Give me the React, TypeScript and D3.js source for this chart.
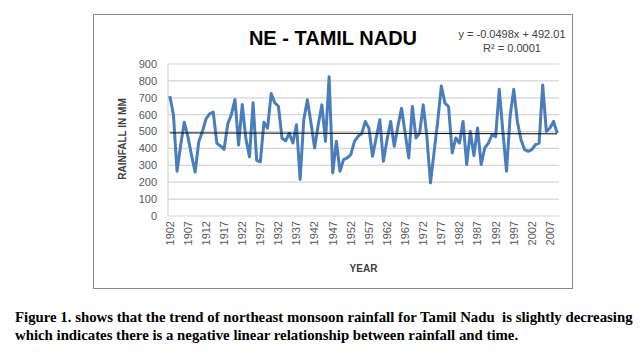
import React from "react";
import * as d3 from "d3";

const startYear = 1902;
const rainfall: number[] = [
  710, 600, 265, 420, 555, 470, 360, 260, 440, 500,
  575, 605, 615, 430, 415, 395, 545, 600, 690, 420,
  660, 460, 350, 670, 330, 320, 555, 520, 725, 670,
  650, 460, 445, 490, 432, 540, 216, 570, 688, 550,
  403, 540, 658, 442, 825, 255, 442, 265, 334, 344,
  363, 442, 472, 487, 560, 520, 354, 462, 570, 324,
  452, 560, 413, 530, 638, 491, 344, 648, 462, 491,
  658, 472, 196, 380, 560, 770, 668, 648, 373, 462,
  432, 560, 305, 500, 358, 521, 305, 403, 432, 481,
  470, 750, 500, 265, 590, 750, 560, 452, 393, 383,
  393, 422, 432, 776, 501, 521, 560, 491,
];
const years: number[] = rainfall.map((_, i) => startYear + i);
const yTicks: number[] = [0, 100, 200, 300, 400, 500, 600, 700, 800, 900];
const trendSlope = -0.0498;
const trendIntercept = 492.01;
const titleText = "NE - TAMIL NADU";
const equationText = "y = -0.0498x + 492.01";
const r2Text = "R² = 0.0001";
const yAxisTitle = "RAINFALL IN MM";
const xAxisTitle = "YEAR";
const caption1 = "Figure 1. shows that the trend of northeast monsoon rainfall for Tamil Nadu  is slightly decreasing";
const caption2 = "which indicates there is a negative linear relationship between rainfall and time.";

export default function App() {
  const W = 641, H = 357;
  const plotL = 168, plotR = 559, plotT = 64, plotB = 216;
  const x = d3.scaleBand<number>().domain(years).range([plotL, plotR]);
  const cx = (yr: number) => (x(yr) as number) + x.bandwidth() / 2;
  const y = d3.scaleLinear().domain([0, 900]).range([plotB, plotT]);
  const line = d3.line<number>().x((_, i) => cx(years[i])).y((d) => y(d));
  const trend = [1, years.length].map((n) => ({ yr: years[n - 1], v: trendSlope * n + trendIntercept }));
  const labelYears = years.filter((_, i) => i % 5 === 0);
  const axisFont = "'Liberation Sans', Arial, sans-serif";
  const serif = "'Liberation Serif', 'Times New Roman', serif";
  return (
    <svg width={W} height={H} style={{ position: "absolute", left: 0, top: 0, background: "#fff" }}>
      <rect x={0} y={0} width={W} height={H} fill="#fff" />
      <rect x={93.5} y={14.5} width={479} height={274} fill="#fff" stroke="#8c8c8c" strokeWidth={1} />
      {yTicks.map((t) => (
        <line key={t} x1={plotL} x2={plotR} y1={y(t)} y2={y(t)} stroke="#d4d4d4" strokeWidth={1.2} />
      ))}
      <line x1={plotL} x2={plotL} y1={plotT} y2={plotB} stroke="#d4d4d4" strokeWidth={1.2} />
      {yTicks.map((t) => (
        <text key={t} x={157} y={y(t)} dy="0.35em" textAnchor="end" fontSize={11} fill="#595959" fontFamily={axisFont}>
          {t}
        </text>
      ))}
      {labelYears.map((yr) => (
        <text key={yr} transform={`translate(${cx(yr)},221) rotate(-90)`} dy="0.35em" textAnchor="end" fontSize={11} fill="#595959" fontFamily={axisFont}>
          {yr}
        </text>
      ))}
      <path d={line(rainfall) || ""} fill="none" stroke="#4a7ebb" strokeWidth={3} strokeLinejoin="round" />
      <line x1={cx(trend[0].yr)} x2={cx(trend[1].yr)} y1={y(trend[0].v)} y2={y(trend[1].v)} stroke="#000" strokeWidth={1} />
      <text x={333} y={45} textAnchor="middle" fontSize={20} fontWeight="bold" fill="#000" fontFamily={axisFont}>
        {titleText}
      </text>
      <text x={512} y={38} textAnchor="middle" fontSize={11} fill="#404040" fontFamily={axisFont}>
        {equationText}
      </text>
      <text x={512} y={52} textAnchor="middle" fontSize={11} fill="#404040" fontFamily={axisFont}>
        {r2Text}
      </text>
      <text transform={`translate(122,139) rotate(-90)`} dy="0.35em" textAnchor="middle" fontSize={10} fontWeight="bold" fill="#404040" fontFamily={axisFont}>
        {yAxisTitle}
      </text>
      <text x={(plotL + plotR) / 2} y={272} textAnchor="middle" fontSize={10} fontWeight="bold" fill="#404040" fontFamily={axisFont}>
        {xAxisTitle}
      </text>
      <text x={15} y={322} fontSize={14.8} fontWeight="bold" fill="#000" fontFamily={serif} style={{ whiteSpace: "pre" }}>
        {caption1}
      </text>
      <text x={15} y={340} fontSize={14.8} fontWeight="bold" fill="#000" fontFamily={serif} style={{ whiteSpace: "pre" }}>
        {caption2}
      </text>
    </svg>
  );
}
